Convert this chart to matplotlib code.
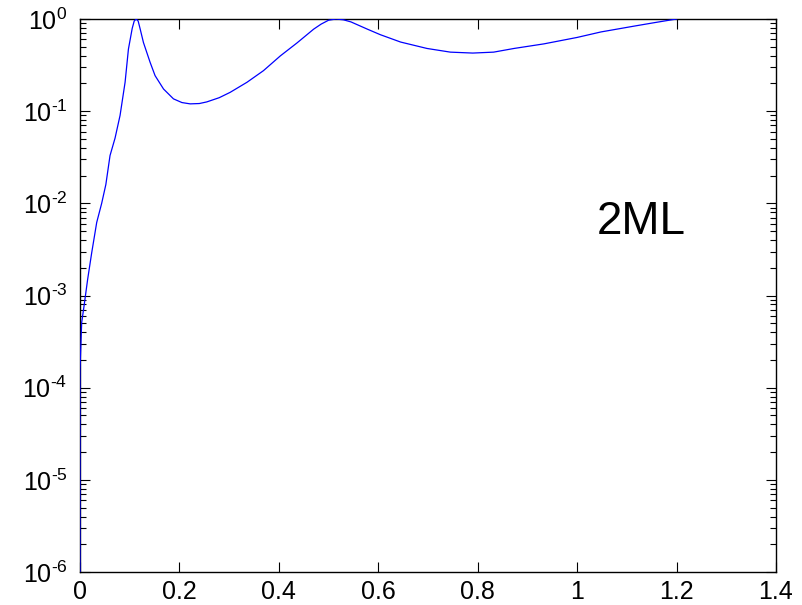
import matplotlib
matplotlib.use("Agg")
import matplotlib.pyplot as plt
from matplotlib.ticker import LogLocator, NullFormatter

plt.rcParams['font.family'] = ['Liberation Sans', 'DejaVu Sans']
plt.rcParams['mathtext.fontset'] = 'custom'
plt.rcParams['mathtext.rm'] = 'Liberation Sans'
plt.rcParams['mathtext.it'] = 'Liberation Sans'

x_vals = [0.0, 0.0, 0.0034, 0.008, 0.0154, 0.0235, 0.0336, 0.0436, 0.052, 0.0604,
          0.0705, 0.0806, 0.0907, 0.0974, 0.105, 0.109, 0.113, 0.117, 0.121, 0.1276,
          0.141, 0.151, 0.168, 0.188, 0.205, 0.2216, 0.24, 0.255, 0.28, 0.302, 0.336,
          0.369, 0.403, 0.4365, 0.47, 0.485, 0.50, 0.515, 0.53, 0.545, 0.578, 0.604,
          0.645, 0.698, 0.745, 0.79, 0.832, 0.873, 0.933, 1.0, 1.048, 1.114, 1.155,
          1.18, 1.2]
y_vals = [1e-8, 1.6e-4, 5.1e-4, 7.6e-4, 1.5e-3, 2.9e-3, 6.2e-3, 1.0e-2, 1.6e-2, 3.3e-2,
          5.1e-2, 9.0e-2, 0.206, 0.471, 0.79, 0.95, 1.0, 0.95, 0.78, 0.556,
          0.339, 0.243, 0.174, 0.136, 0.124, 0.120, 0.121, 0.126, 0.140, 0.160, 0.206,
          0.275, 0.398, 0.55, 0.776, 0.88, 0.97, 1.0, 0.98, 0.93, 0.776, 0.676,
          0.562, 0.479, 0.437, 0.427, 0.437, 0.479, 0.537, 0.631, 0.724, 0.836, 0.912,
          0.96, 1.0]

x_ticks = [0, 0.2, 0.4, 0.6, 0.8, 1.0, 1.2, 1.4]
x_tick_labels = ['0', '0.2', '0.4', '0.6', '0.8', '1', '1.2', '1.4']
y_ticks = [1e-6, 1e-5, 1e-4, 1e-3, 1e-2, 1e-1, 1e0]
y_tick_labels = [r'$10^{\text{-6}}$', r'$10^{\text{-5}}$', r'$10^{\text{-4}}$',
                 r'$10^{\text{-3}}$', r'$10^{\text{-2}}$', r'$10^{\text{-1}}$',
                 r'$10^{0}$']
annotation = '2ML'

fig = plt.figure(figsize=(8.03, 6.05), dpi=100)
ax = fig.add_axes([80/803, 33/605, (776-80)/803, (572-19)/605])
ax.plot(x_vals, y_vals, color='#0000ff', lw=0.9, zorder=3)
ax.set_yscale('log')
ax.set_xlim(0, 1.4)
ax.set_ylim(1e-6, 1e0)
ax.set_xticks(x_ticks)
ax.set_xticklabels(x_tick_labels)
ax.set_yticks(y_ticks)
ax.set_yticklabels(y_tick_labels)
ax.yaxis.set_minor_locator(LogLocator(base=10, subs=range(2, 10), numticks=20))
ax.yaxis.set_minor_formatter(NullFormatter())
ax.tick_params(which='both', direction='in', top=True, right=True, labelsize=18, width=0.8)
ax.tick_params(which='major', length=7, pad=9)
ax.tick_params(axis='x', which='major', pad=6)
ax.tick_params(which='minor', length=4)
for s in ax.spines.values():
    s.set_linewidth(1.0)

ax.text(1.04, 10**-2.2, annotation, fontsize=33, ha='left', va='center')

fig.savefig('out.png', dpi=100)
